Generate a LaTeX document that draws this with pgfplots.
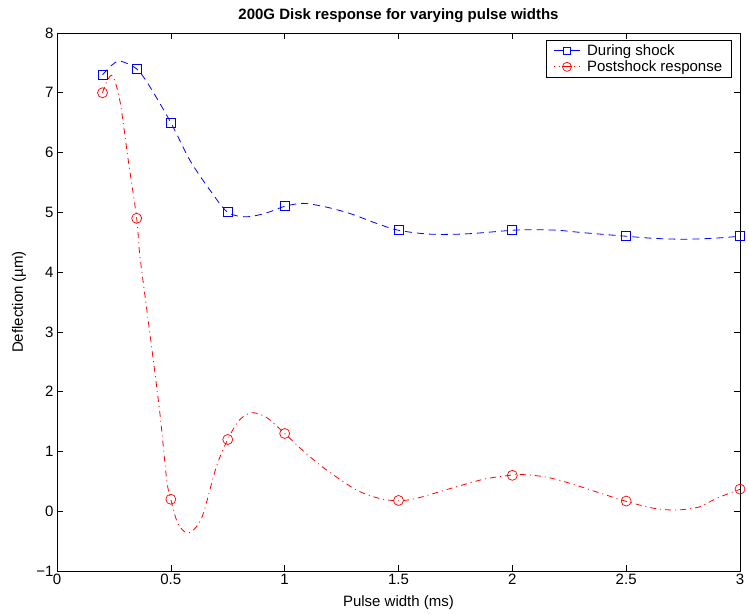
\documentclass[border=0pt]{standalone}
\usepackage{pgfplots}
\pgfplotsset{compat=1.18}
\usepackage{fontspec}
\setmainfont{Liberation Sans}
\begin{document}
\begin{tikzpicture}[font=\fontsize{15}{18}\selectfont]
\begin{axis}[
  scale only axis, width=683pt, height=538pt,
  xmin=0, xmax=3, ymin=-1, ymax=8,
  xtick={0,0.5,1,1.5,2,2.5,3},
  xticklabels={0,0.5,1,1.5,2,2.5,3},
  ytick={-1,0,1,2,3,4,5,6,7,8},
  yticklabels={−1,0,1,2,3,4,5,6,7,8},
  tick align=inside, major tick length=6pt,
  tick style={black, line width=0.6pt},
  axis line style={line width=0.8pt},
  /pgf/number format/assume math mode=true,
  title={\textbf{200G Disk response for varying pulse widths}},
  every axis title/.style={at={([yshift=13pt]axis description cs:0.5,1)}, anchor=base},
  xlabel={Pulse width (ms)}, ylabel={Deflection (µm)},
  every axis x label/.style={at={([yshift=-32pt]axis description cs:0.5,0)}, anchor=center},
  every axis y label/.style={at={([xshift=-38pt]axis description cs:0,0.5)}, anchor=center, rotate=90},
  legend style={at={(1,1)}, anchor=north east, xshift=-8pt, yshift=-7pt,
    draw=black, line width=0.6pt, font=\fontsize{15}{17}\selectfont,
    row sep=0pt, inner xsep=7.5pt, inner ysep=2pt},
  legend cell align=left,
]
% curves
\addplot[blue, line width=0.8pt, dash pattern=on 7pt off 5pt, smooth, tension=0.5, forget plot] coordinates {
(0.2,7.3) (0.24,7.46) (0.277,7.53) (0.35,7.4) (0.408,7.10) (0.5,6.5) (0.584,5.87) (0.672,5.37) (0.75,5.0) (0.833,4.925) (0.92,4.99) (1.0,5.1) (1.082,5.15) (1.18,5.09) (1.287,4.98) (1.4,4.82) (1.5,4.70) (1.638,4.635) (1.8,4.64) (2.0,4.70) (2.09,4.71) (2.2,4.70) (2.31,4.66) (2.5,4.60) (2.62,4.565) (2.75,4.55) (2.88,4.565) (3.0,4.60)};
\addplot[red, line width=0.8pt, dash pattern=on 6pt off 4pt on 1pt off 4pt, smooth, tension=0.5, forget plot] coordinates {
(0.2,7.0) (0.22,7.2) (0.245,7.28) (0.277,6.85) (0.313,5.87) (0.35,4.9) (0.3645,4.26) (0.408,2.975) (0.452,1.637) (0.482,0.52) (0.5,0.2) (0.53,-0.2) (0.571,-0.365) (0.61,-0.27) (0.643,-0.035) (0.70,0.744) (0.75,1.2) (0.80,1.52) (0.855,1.647) (0.92,1.57) (1.0,1.3) (1.09,0.98) (1.184,0.689) (1.316,0.354) (1.42,0.21) (1.5,0.176) (1.58,0.216) (1.755,0.41) (1.88,0.54) (2.0,0.605) (2.06,0.61) (2.15,0.57) (2.253,0.467) (2.38,0.31) (2.5,0.165) (2.62,0.05) (2.72,0.02) (2.82,0.07) (2.897,0.216) (3.0,0.366)};
% data markers
\addplot[blue, only marks, mark=square, mark size=4.5pt, line width=0.7pt,
  legend image code/.code={\draw[blue, line width=0.7pt] (0cm,0cm) -- (0.9cm,0cm);
    \draw[blue, line width=0.7pt, fill=white] (0.45cm,0cm) +(-3.5pt,-3.5pt) rectangle +(3.5pt,3.5pt);
    \path (0.9cm,0cm) ++(5pt,0pt);}]
 coordinates {(0.2,7.3) (0.35,7.4) (0.5,6.5) (0.75,5.0) (1.0,5.1) (1.5,4.7) (2.0,4.7) (2.5,4.6) (3.0,4.6)};
\addlegendentry{During shock}
\addplot[red, only marks, mark=o, mark size=5pt, line width=0.7pt,
  legend image code/.code={\draw[red, line width=0.7pt, dash pattern=on 1pt off 4pt] (0cm,0cm) -- (0.9cm,0cm);
    \draw[red, line width=0.7pt, fill=white] (0.45cm,0cm) circle (4.5pt);
    \draw[red, line width=0.7pt] (0.29cm,0cm) -- (0.61cm,0cm);
    \path (0.9cm,0cm) ++(5pt,0pt);}]
 coordinates {(0.2,7.0) (0.35,4.9) (0.5,0.2) (0.75,1.2) (1.0,1.3) (1.5,0.18) (2.0,0.6) (2.5,0.17) (3.0,0.37)};
\addlegendentry{Postshock response}
\end{axis}
\pgfresetboundingbox
\useasboundingbox ([shift={(-57pt,-44pt)}]current axis.south west) rectangle ([shift={(9pt,33pt)}]current axis.north east);
\end{tikzpicture}
\end{document}
